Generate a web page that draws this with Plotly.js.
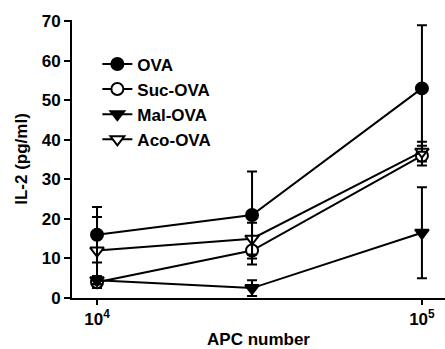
<!DOCTYPE html>
<html>
<head>
<meta charset="utf-8">
<script src="https://cdn.plot.ly/plotly-3.0.1.min.js"></script>
<style>html,body{margin:0;padding:0;background:#fff}#chart{width:445px;height:349px}</style>
</head>
<body>
<div id="chart"></div>
<script>
const apcNumber = [10000, 30000, 100000];
const seriesNames = ['OVA', 'Suc-OVA', 'Mal-OVA', 'Aco-OVA'];
const ovaValues = [16, 21, 53];
const ovaErrors = [7, 11, 16];
const sucValues = [4, 12, 36];
const sucErrors = [1.5, 3.5, 2.5];
const malValues = [4.5, 2.5, 16.5];
const malErrors = [1, 2, 11.5];
const acoValues = [12, 15, 37];
const acoErrors = [8.5, 4, 2.5];
const xTickVals = [10000, 100000];
const xTickText = ['10<sup>4</sup>', '10<sup>5</sup>'];
const yTickVals = [0, 10, 20, 30, 40, 50, 60, 70];

function mk(name, y, err, symbol, fill) {
  return {
    type: 'scatter', mode: 'lines+markers', name: name,
    x: apcNumber, y: y,
    line: {color: '#000', width: 2},
    marker: {symbol: symbol, size: 12, color: fill, line: {color: '#000', width: 2}},
    error_y: {type: 'data', array: err, visible: true, color: '#000', thickness: 2, width: 5}
  };
}
const data = [
  mk(seriesNames[1], sucValues, sucErrors, 'circle', '#fff'),
  mk(seriesNames[2], malValues, malErrors, 'triangle-down', '#000'),
  mk(seriesNames[3], acoValues, acoErrors, 'triangle-down', '#fff'),
  mk(seriesNames[0], ovaValues, ovaErrors, 'circle', '#000')
];
data[0].legendrank = 2; data[1].legendrank = 3; data[2].legendrank = 4; data[3].legendrank = 1;

const layout = {
  width: 445, height: 349,
  margin: {l: 72, r: 0, t: 20, b: 51},
  paper_bgcolor: '#fff', plot_bgcolor: '#fff',
  font: {family: 'Liberation Sans, Arial, sans-serif', size: 17, color: '#000', weight: 'bold'},
  showlegend: true,
  legend: {x: 0.068, y: 0.905, xanchor: 'left', yanchor: 'top', bgcolor: 'rgba(0,0,0,0)',
           font: {size: 17, weight: 'bold'}, tracegroupgap: 0},
  xaxis: {type: 'log', range: [3.923, 5.071], tickvals: xTickVals, ticktext: xTickText,
          ticks: 'outside', ticklen: 5, tickwidth: 2, tickcolor: '#000',
          tickfont: {size: 17, weight: 'bold'},
          showline: true, linecolor: '#000', linewidth: 2, showgrid: false, zeroline: false,
          title: {text: 'APC number', font: {size: 17, weight: 'bold'}, standoff: 6}},
  yaxis: {range: [0, 70.3], tickvals: yTickVals, ticks: 'outside', ticklen: 6, tickwidth: 2,
          tickcolor: '#000', showline: true, linecolor: '#000', linewidth: 2,
          tickfont: {size: 17, weight: 'bold'},
          showgrid: false, zeroline: false,
          title: {text: 'IL-2 (pg/ml)', font: {size: 17, weight: 'bold'}, standoff: 10}}
};
Plotly.newPlot('chart', data, layout, {displayModeBar: false, staticPlot: true});
</script>
</body>
</html>
